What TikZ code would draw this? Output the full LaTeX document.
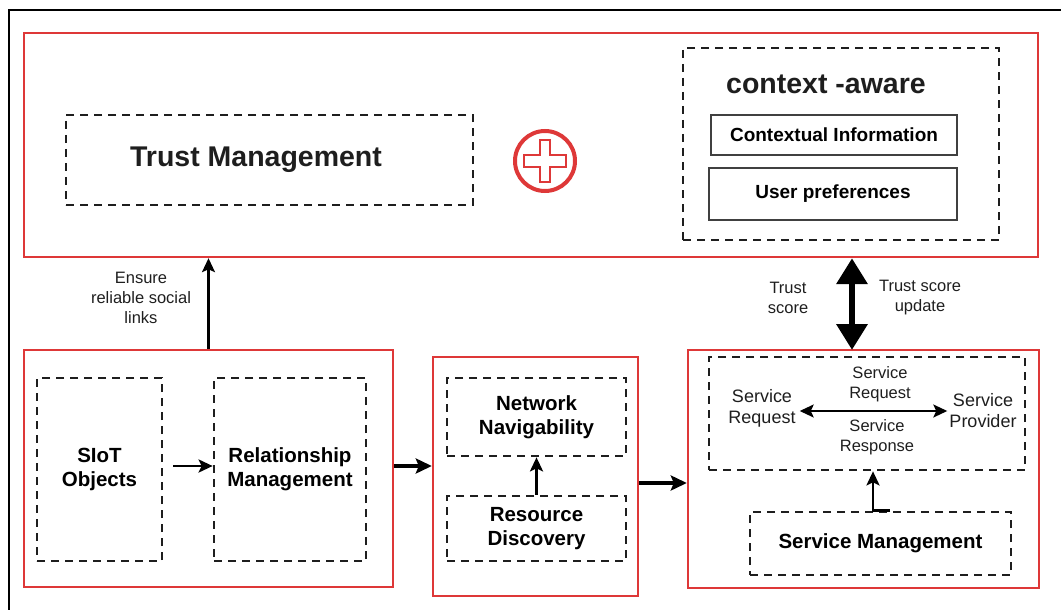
\documentclass[tikz,border=0pt]{standalone}
\usepackage{fontspec}
\setmainfont{Liberation Sans}
\usetikzlibrary{arrows.meta,calc}
\definecolor{boxred}{RGB}{222,56,56}
\definecolor{ink}{RGB}{30,30,30}
\tikzset{
  redbox/.style={draw=boxred, line width=2.4pt, inner sep=0pt},
  dashbox/.style={draw=ink, line width=2.7pt, dash pattern=on 8pt off 6pt, inner sep=0pt, align=center,
                  font=\bfseries\fontsize{20.5}{24}\selectfont},
  solidbox/.style={draw=ink!85, line width=1.5pt, inner sep=0pt, align=center,
                  font=\bfseries\fontsize{19}{22}\selectfont},
  lbl/.style={align=center, inner sep=0pt, text=ink, font=\fontsize{16.5}{20}\selectfont},
  flow/.style={draw=black, line width=2.6pt, -{Stealth[length=14pt,width=13pt,inset=3pt]}},
  bigflow/.style={draw=black, line width=3.4pt, -{Stealth[length=16pt,width=15pt,inset=3pt]}},
}
\begin{document}
\begin{tikzpicture}[x=1pt, y=-1pt]
\useasboundingbox (0,0) rectangle (1061,610);
% frame
\draw[black, line width=1.6pt] (9,610) -- (9,10) -- (1061,10);

% ---- upper layer ----
\node[redbox, minimum width=1014pt, minimum height=224pt] (top) at (531,145) {};
\node[dashbox, minimum width=407pt, minimum height=90pt] (tm) at (269.5,160) {};
\node[inner sep=0pt, font=\bfseries\fontsize{28.5}{32}\selectfont, text=ink] (tmtext) at (256,160) {Trust Management};

% plus sign
\node[draw=boxred, line width=4pt, circle, minimum size=60pt, inner sep=0pt] (plus) at (545,161) {};
\draw[boxred, line width=1.8pt, fill=white]
  ($(plus.center)+(-5,-21)$) -- ($(plus.center)+(5,-21)$) -- ($(plus.center)+(5,-6)$) --
  ($(plus.center)+(21,-6)$) -- ($(plus.center)+(21,6)$) -- ($(plus.center)+(5,6)$) --
  ($(plus.center)+(5,21)$) -- ($(plus.center)+(-5,21)$) -- ($(plus.center)+(-5,6)$) --
  ($(plus.center)+(-21,6)$) -- ($(plus.center)+(-21,-6)$) -- ($(plus.center)+(-5,-6)$) -- cycle;

\node[dashbox, minimum width=316pt, minimum height=192pt] (ctx) at (841,144) {};
\node[inner sep=0pt, font=\bfseries\fontsize{28.5}{32}\selectfont, text=ink] (ctxtitle) at (826,84) {context -aware};
\node[solidbox, minimum width=246pt, minimum height=40pt] (ci) at (834,135) {Contextual Information};
\node[solidbox, minimum width=248pt, minimum height=52pt] (up) at (833,194) {User preferences};

% ---- lower layer ----
\node[redbox, minimum width=369pt, minimum height=237pt] (bl) at (208.5,468.5) {};
\node[dashbox, minimum width=125pt, minimum height=183pt] (siot) at (99.5,469.5) {SIoT\\Objects};
\node[dashbox, minimum width=152pt, minimum height=183pt] (rel) at (290,469.5) {Relationship\\Management};

\node[redbox, minimum width=205pt, minimum height=239pt] (mid) at (535.5,476.5) {};
\node[dashbox, minimum width=179pt, minimum height=78pt] (nn) at (536.5,417) {Network\\Navigability};
\node[dashbox, minimum width=179pt, minimum height=65pt] (rd) at (536.5,528.5) {Resource\\Discovery};

\node[redbox, minimum width=351pt, minimum height=238pt] (br) at (863.5,469) {};
\node[dashbox, minimum width=316pt, minimum height=113pt] (svc) at (867,413.5) {};
\node[dashbox, minimum width=261pt, minimum height=63pt] (sm) at (880.5,543.5) {Service Management};

\node[lbl, font=\fontsize{18}{21}\selectfont] (sreq) at (762,408) {Service\\Request};
\node[lbl, font=\fontsize{18}{21}\selectfont] (sprov) at (983,411) {Service\\Provider};
\node[lbl] (reqlbl) at (880,384) {Service\\Request};
\node[lbl] (resplbl) at (877,437) {Service\\Response};

% ---- connectors ----
\draw[flow] ([xshift=10pt]siot.east |- 0,466) -- (rel.west |- 0,466);
\draw[bigflow] (bl.east |- 0,466) -- (mid.west |- 0,466);
\draw[bigflow] (mid.east |- 0,483) -- (br.west |- 0,483);
\draw[flow] (rd.north) -- (nn.south);
\draw[flow] (sm.north -| 890,0) -- (sm.north -| 873,0) -- (svc.south -| 873,0);
\draw[black, line width=2pt, {Stealth[length=14pt,width=13pt,inset=3pt]}-{Stealth[length=14pt,width=13pt,inset=3pt]}]
  ([xshift=4pt]sreq.east |- 0,411) -- ([xshift=-2pt]sprov.west |- 0,411);

\draw[flow, line width=2.2pt] (bl.north) -- (bl.north |- top.south);
\node[lbl] (ens) at (141,298) {Ensure\\reliable social\\links};

\coordinate (tsb) at (852,350);
\draw[black, line width=6.5pt, {Triangle[length=26pt,width=30pt]}-{Triangle[length=26pt,width=30pt]}]
  (tsb) -- (tsb |- top.south);
\node[lbl] (ts) at (788,298) {Trust\\score};
\node[lbl] (tsu) at (920,298) {Trust score\\update};
\end{tikzpicture}
\end{document}
